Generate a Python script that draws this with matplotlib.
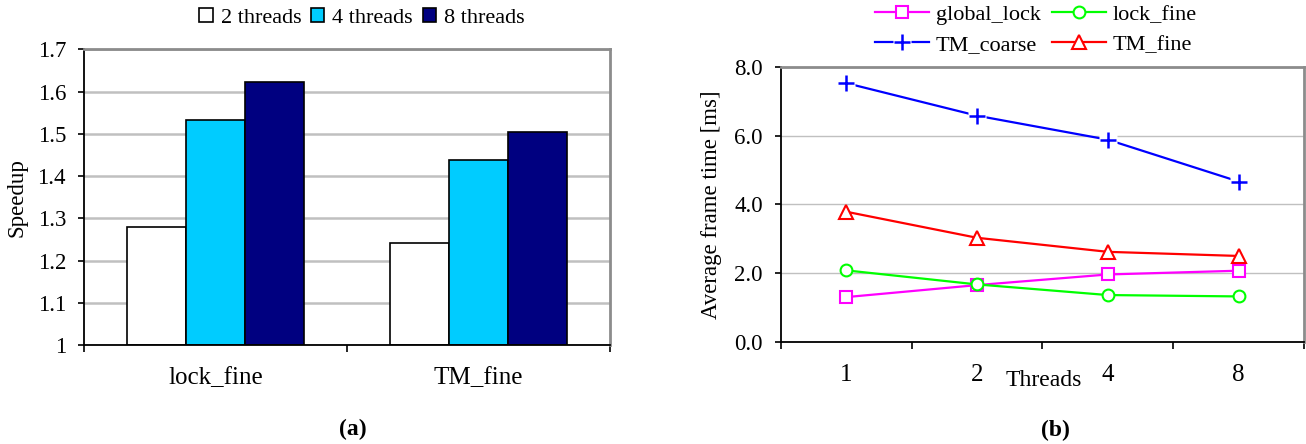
import matplotlib
matplotlib.use('Agg')
import matplotlib.pyplot as plt
from matplotlib.legend_handler import HandlerTuple
from matplotlib.patches import Patch
from matplotlib.ticker import FuncFormatter

plt.rcParams['font.family'] = ['Liberation Serif', 'DejaVu Serif']

# ---- data (a) ----
categories_a = ['lock_fine', 'TM_fine']
series_a = ['2 threads', '4 threads', '8 threads']
speedup_2 = [1.28, 1.242]
speedup_4 = [1.533, 1.438]
speedup_8 = [1.623, 1.505]
colors_a = ['#FFFFFF', '#00CCFF', '#000080']
yticks_a = [1.0, 1.1, 1.2, 1.3, 1.4, 1.5, 1.6, 1.7]

# ---- data (b) ----
threads = ['1', '2', '4', '8']
global_lock = [1.30, 1.65, 1.96, 2.07]
lock_fine = [2.08, 1.67, 1.36, 1.32]
tm_coarse = [7.54, 6.59, 5.89, 4.67]
tm_fine = [3.79, 3.03, 2.62, 2.50]
yticks_b = [0.0, 2.0, 4.0, 6.0, 8.0]

FS = 16
FSX = 18
W, H = 1306, 444
fig = plt.figure(figsize=(W / 100, H / 100), dpi=100)

def style_axes(ax, gridlw):
    ax.set_axisbelow(True)
    ax.yaxis.grid(True, color='#c0c0c0', lw=gridlw)
    for s in ['top', 'right']:
        ax.spines[s].set_color('#8c8c8c')
        ax.spines[s].set_linewidth(2.0)
    for s in ['left', 'bottom']:
        ax.spines[s].set_color('black')
        ax.spines[s].set_linewidth(1.3)
    ax.tick_params(axis='y', which='major', direction='out', length=4, width=1.2,
                   pad=9, labelsize=FS + 0.5)
    ax.tick_params(axis='x', which='major', direction='out', length=5, width=1.2,
                   labelbottom=False)
    ax.tick_params(axis='x', which='minor', length=0, pad=16, labelsize=FSX)

# ================= (a) =================
axa = fig.add_axes([84 / W, 1 - 345 / H, (610 - 84) / W, (345 - 49.3) / H])
centers = [0.5, 1.5]
bw = 0.224
handles_a = []
for i, (vals, col, name) in enumerate(zip([speedup_2, speedup_4, speedup_8], colors_a, series_a)):
    xs = [c + (i - 1) * bw for c in centers]
    heights = [v - 1.0 for v in vals]
    axa.bar(xs, heights, width=bw, bottom=1.0, color=col, edgecolor='black',
            linewidth=1.2, zorder=2)
    handles_a.append(Patch(facecolor=col, edgecolor='black', linewidth=1.2, label=name))
axa.set_xlim(0, 2)
axa.set_ylim(1.0, 1.7)
axa.set_yticks(yticks_a)
axa.yaxis.set_major_formatter(FuncFormatter(lambda v, p: f'{round(v, 2):g}'))
axa.set_xticks([0, 1, 2])
axa.set_xticks(centers, minor=True)
axa.set_xticklabels(categories_a, minor=True)
style_axes(axa, 1.8)
axa.set_ylabel('Speedup', fontsize=FS + 0.5, labelpad=7)

fig.legend(handles=handles_a, loc='center', bbox_to_anchor=(362 / W, 1 - 18 / H),
           ncol=3, frameon=False, fontsize=FS, handlelength=0.6, handleheight=0.6,
           handletextpad=0.35, columnspacing=0.45, borderpad=0)

# ================= (b) =================
axb = fig.add_axes([780.7 / W, 1 - 341.7 / H, (1304 - 780.7) / W, (341.7 - 67.3) / H])
xb = [0.5, 1.5, 2.5, 3.5]
l1, = axb.plot(xb, global_lock, color='#FF00FF', lw=1.6, marker='s', ms=8,
               mfc='white', mec='#FF00FF', mew=1.5, zorder=3, label='global_lock')
l2, = axb.plot(xb, lock_fine, color='#00FF00', lw=1.6, marker='o', ms=8.5,
               mfc='white', mec='#00FF00', mew=1.5, zorder=3, label='lock_fine')
l3a, = axb.plot(xb, tm_coarse, color='#0000FF', lw=1.6, zorder=3)
l3b, = axb.plot(xb, tm_coarse, ls='none', marker='s', ms=13, mfc='white',
                mec='none', zorder=4)
l3c, = axb.plot(xb, tm_coarse, ls='none', marker='+', ms=11, mec='#0000FF',
                mew=1.8, zorder=5)
l4, = axb.plot(xb, tm_fine, color='#FF0000', lw=1.6, marker='^', ms=10,
               mfc='white', mec='#FF0000', mew=1.5, zorder=3, label='TM_fine')
axb.set_xlim(0, 4)
axb.set_ylim(0, 8)
axb.set_yticks(yticks_b)
axb.yaxis.set_major_formatter(FuncFormatter(lambda v, p: f'{v:.1f}'))
axb.set_xticks([0, 1, 2, 3, 4])
axb.set_xticks(xb, minor=True)
axb.set_xticklabels(threads, minor=True)
style_axes(axb, 1.0)
axb.set_ylabel('Average frame time [ms]', fontsize=FS + 0.5, labelpad=9)
fig.text(1044 / W, 1 - 380 / H, 'Threads', fontsize=17, ha='center', va='center')

fig.legend(handles=[l1, (l3a, l3b, l3c), l2, l4],
           labels=['global_lock', 'TM_coarse', 'lock_fine', 'TM_fine'],
           handler_map={tuple: HandlerTuple(ndivide=1, pad=0)},
           loc='center', bbox_to_anchor=(1036 / W, 1 - 29.5 / H), ncol=2,
           frameon=False, fontsize=FS, handlelength=2.45, handletextpad=0.3,
           columnspacing=0.5, labelspacing=0.42, borderpad=0)

# captions
fig.text(353 / W, 1 - 429 / H, '(a)', fontsize=FS + 1, fontweight='bold', ha='center', va='center')
fig.text(1055 / W, 1 - 430 / H, '(b)', fontsize=FS + 1, fontweight='bold', ha='center', va='center')

fig.savefig('out.png', dpi=100)
